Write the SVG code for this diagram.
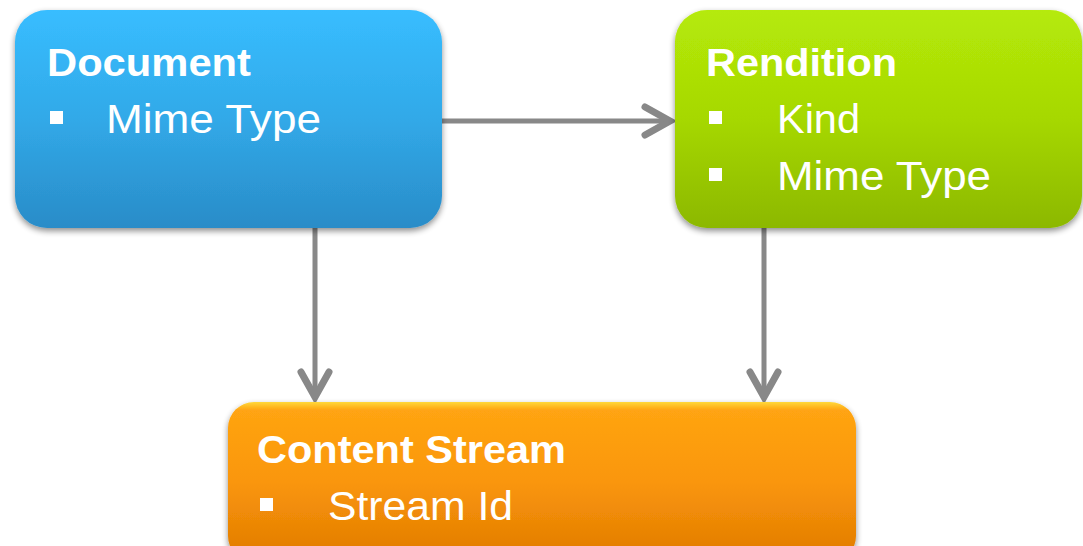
<svg xmlns="http://www.w3.org/2000/svg" width="1083" height="546" viewBox="0 0 1083 546">
<defs>
<linearGradient id="gBlue" x1="0" y1="0" x2="0" y2="1">
<stop offset="0" stop-color="#38bdff"/><stop offset="0.5" stop-color="#31a9e8"/><stop offset="1" stop-color="#2a8cc8"/>
</linearGradient>
<linearGradient id="gGreen" x1="0" y1="0" x2="0" y2="1">
<stop offset="0" stop-color="#b5ea08"/><stop offset="0.5" stop-color="#a6d804"/><stop offset="1" stop-color="#8cb800"/>
</linearGradient>
<linearGradient id="gOrange" x1="0" y1="0" x2="0" y2="1">
<stop offset="0" stop-color="#ffd83a"/><stop offset="0.05" stop-color="#ffa412"/><stop offset="0.5" stop-color="#fa960a"/><stop offset="1" stop-color="#e07a02"/>
</linearGradient>
<filter id="sh" x="-10%" y="-10%" width="120%" height="130%">
<feGaussianBlur in="SourceAlpha" stdDeviation="3"/>
<feOffset dx="0" dy="3" result="b"/>
<feComponentTransfer><feFuncA type="linear" slope="0.45"/></feComponentTransfer>
<feMerge><feMergeNode/><feMergeNode in="SourceGraphic"/></feMerge>
</filter>
</defs>
<style>
.t{font-family:"Liberation Sans",Arial,sans-serif;fill:#ffffff;}
.h{font-weight:bold;font-size:39px;}
.i{font-size:41px;}
.con{stroke:#888888;stroke-width:5;fill:none;}
.head{stroke:#888888;stroke-width:7;fill:none;stroke-linecap:round;stroke-linejoin:miter;}
.bul{fill:#ffffff;}
</style>
<g id="connectors">
<line class="con" x1="442" y1="121" x2="670" y2="121"/>
<polyline class="head" points="645,107 670,121 645,135"/>
<line class="con" x1="315" y1="228" x2="315" y2="398"/>
<polyline class="head" points="301,372 315,397 329,372"/>
<line class="con" x1="764" y1="228" x2="764" y2="398"/>
<polyline class="head" points="750,372 764,397 778,372"/>
</g>
<g id="document">
<rect x="15" y="10" width="427" height="218" rx="32" fill="url(#gBlue)" filter="url(#sh)"/>
<text class="t h" x="47" y="76" textLength="204" lengthAdjust="spacingAndGlyphs">Document</text>
<rect class="bul" x="50" y="111" width="13" height="13"/>
<text class="t i" x="106" y="133" textLength="215" lengthAdjust="spacingAndGlyphs">Mime Type</text>
</g>
<g id="rendition">
<rect x="675" y="10" width="407" height="218" rx="32" fill="url(#gGreen)" filter="url(#sh)"/>
<text class="t h" x="706" y="76" textLength="191" lengthAdjust="spacingAndGlyphs">Rendition</text>
<rect class="bul" x="709" y="111" width="13" height="13"/>
<text class="t i" x="777" y="133" textLength="83" lengthAdjust="spacingAndGlyphs">Kind</text>
<rect class="bul" x="709" y="168" width="13" height="13"/>
<text class="t i" x="777" y="190" textLength="214" lengthAdjust="spacingAndGlyphs">Mime Type</text>
</g>
<g id="content-stream">
<rect x="228" y="402" width="628" height="160" rx="26" fill="url(#gOrange)" filter="url(#sh)"/>
<text class="t h" x="257" y="463" textLength="309" lengthAdjust="spacingAndGlyphs">Content Stream</text>
<rect class="bul" x="260" y="498" width="13" height="13"/>
<text class="t i" x="328" y="520" textLength="185" lengthAdjust="spacingAndGlyphs">Stream Id</text>
</g>
</svg>
